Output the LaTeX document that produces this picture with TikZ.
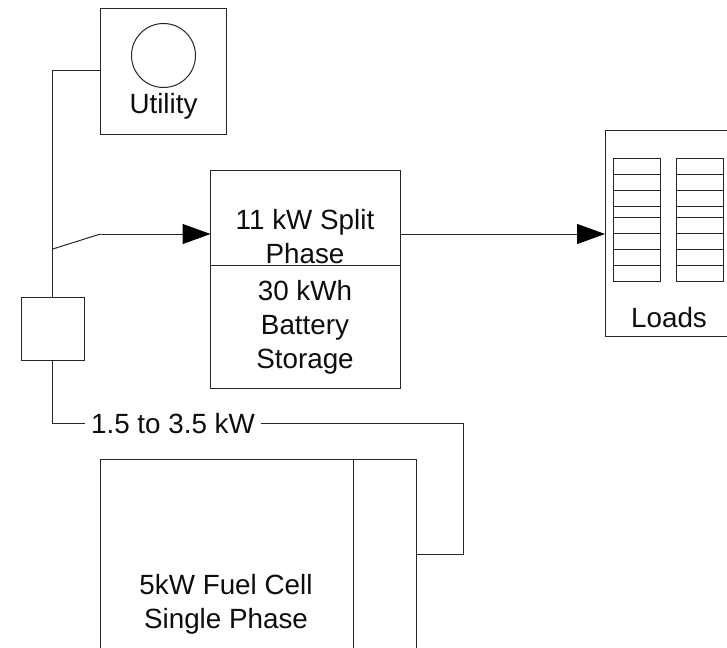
\documentclass[tikz,border=0pt]{standalone}
\usepackage{fontspec}
\setmainfont{Liberation Sans}
\usetikzlibrary{arrows.meta}
\tikzset{
  x=1pt,y=-1pt,
  ln/.style={line width=1pt,draw=black!85},
  boxn/.style={ln,draw,fill=white,inner sep=0pt,outer sep=0pt,rectangle},
  lbl/.style={inner sep=0pt,outer sep=0pt,align=center,font=\fontsize{27.8}{33.7}\selectfont,text=black!95},
  bigtip/.style={-{Triangle[length=28pt,width=20pt,color=black]}}
}
\newcommand{\bx}[6][]{\node[boxn,#1,minimum width=#5-#3,minimum height=#6-#4] (#2) at ({(#3+#5)/2},{(#4+#6)/2}) {};}
\begin{document}
\begin{tikzpicture}
\useasboundingbox (0,0) rectangle (727,647);
\clip (0,0) rectangle (727,647);
\bx{utility}{100.5}{8.5}{226.5}{135}
\node[ln,draw,circle,minimum size=64pt,inner sep=0pt,outer sep=0pt] (dial) at (163.5,55.5) {};
\node[lbl] (utext) at (163.5,106) {Utility};
\bx{inv}{210.5}{170.5}{400}{265.5}
\bx{batt}{210.5}{265.5}{400}{388}
\node[lbl] (invtext) at (305,236.5) {11 kW Split\\Phase};
\node[lbl] (batttext) at (305,327.5) {30 kWh\\Battery\\Storage};
\bx{loads}{605}{131}{740}{336}
\foreach \bn/\xa/\xb in {a/613.5/660,b/676.5/723.5}{
  \bx{bar\bn}{\xa}{158.5}{\xb}{281.5}
  \foreach \yy in {174,190.5,206,217.5,233.5,249.5,265.5}
    \draw[ln] (\xa,\yy) -- (\xb,\yy);
}
\node[lbl] (ltext) at (669,317.5) {Loads};
\bx{meter}{21}{297}{84.5}{360.5}
\bx{fc}{100.5}{459}{353}{680}
\bx{fcport}{353}{459}{416}{680}
\node[lbl] (fctext) at (226,604.5) {5kW Fuel Cell\\Single Phase};
\node[lbl,fill=white,inner xsep=6pt] (power) at (173,423.5) {1.5 to 3.5 kW};
\coordinate (pivot) at (meter.north |- 0,249);
\coordinate (blade) at (100.5,234);
\draw[ln] (utility.west |- 0,71) -| (meter.north);
\draw[ln] (pivot) -- (blade);
\draw[ln,bigtip] (blade) -- (inv.west |- blade);
\draw[ln,bigtip] (inv.east |- blade) -- (loads.west |- blade);
\draw[ln] (meter.south) |- (power.west);
\draw[ln] (power.east) -| (463.5,554) -- (fcport.east |- 0,554);
\end{tikzpicture}
\end{document}
